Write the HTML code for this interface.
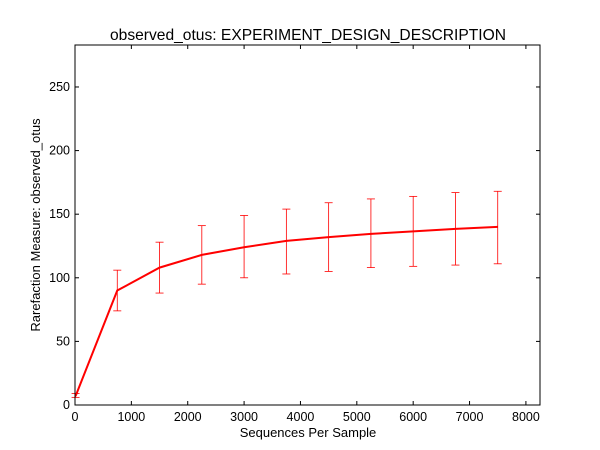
<!DOCTYPE html>
<html><head><meta charset="utf-8"><style>
body{margin:0;background:#fff;}
svg{display:block;font-family:"Liberation Sans","DejaVu Sans",sans-serif;}
</style></head><body>
<svg id="chart" width="600" height="450">
<rect x="0" y="0" width="600" height="450" fill="#fff"/>
<text x="308" y="40" text-anchor="middle" font-size="15.6">observed_otus: EXPERIMENT_DESIGN_DESCRIPTION</text>
<text x="308" y="437" text-anchor="middle" font-size="13">Sequences Per Sample</text>
<text transform="translate(40,225) rotate(-90)" text-anchor="middle" font-size="13">Rarefaction Measure: observed_otus</text>
<g id="plot"></g>
</svg>
<script>
const xs=[10,750,1500,2250,3000,3750,4500,5250,6000,6750,7500];
const means=[7,90,108,118,124,129,132,134.5,136.5,138.5,140];
const lows=[6,74,88,95,100,103,105,108,109,110,111];
const highs=[9,106,128,141,149,154,159,162,164,167,168];
const xTicks=[0,1000,2000,3000,4000,5000,6000,7000,8000];
const yTicks=[0,50,100,150,200,250];
const L=75,R=540,T=45,B=405,XMAX=8250,YMAX=283;
const sx=v=>L+v/XMAX*(R-L), sy=v=>B-v/YMAX*(B-T);
const g=document.getElementById('plot');
const NS='http://www.w3.org/2000/svg';
function mk(t,a){const e=document.createElementNS(NS,t);for(const k in a)e.setAttribute(k,a[k]);g.appendChild(e);return e;}
xTicks.forEach(v=>{const x=sx(v);
 let e=mk('line',{x1:x,x2:x,y1:B,y2:B-4,stroke:'#000'});
 e=mk('line',{x1:x,x2:x,y1:T,y2:T+4,stroke:'#000'});
 e=mk('text',{x:x,y:B+16,'text-anchor':'middle','font-size':12.5});e.textContent=v;});
yTicks.forEach(v=>{const y=sy(v);
 let e=mk('line',{x1:L,x2:L+4,y1:y,y2:y,stroke:'#000'});
 e=mk('line',{x1:R,x2:R-4,y1:y,y2:y,stroke:'#000'});
 e=mk('text',{x:L-5,y:y+4,'text-anchor':'end','font-size':12.5});e.textContent=v;});
xs.forEach((v,i)=>{const x=sx(v),y1=sy(lows[i]),y2=sy(highs[i]);
 let e=mk('line',{x1:x,x2:x,y1:y1,y2:y2,stroke:'#f00','stroke-width':0.8});
 [y1,y2].forEach(y=>{const c=mk('line',{x1:x-4,x2:x+4,y1:y,y2:y,stroke:'#f00','stroke-width':0.8});});});
const p=mk('polyline',{points:xs.map((v,i)=>sx(v)+','+sy(means[i])).join(' '),fill:'none',stroke:'#f00','stroke-width':2});

const f=mk('rect',{x:L,y:T,width:R-L,height:B-T,fill:'none',stroke:'#000','stroke-width':1});

</script>
</body></html>
